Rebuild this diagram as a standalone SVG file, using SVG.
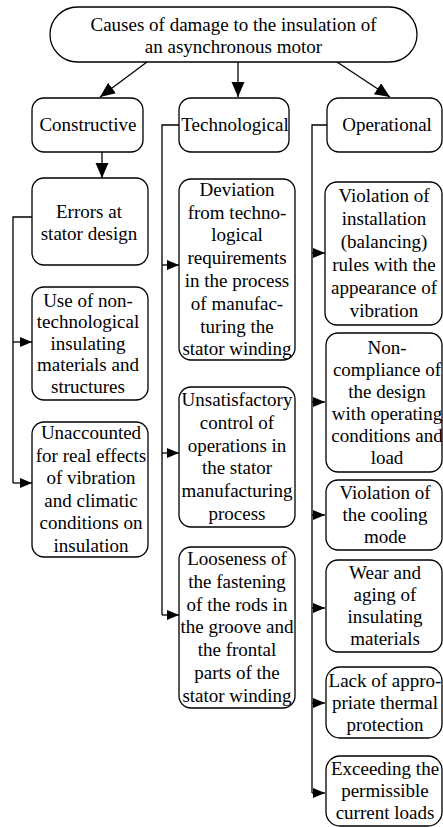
<svg xmlns="http://www.w3.org/2000/svg" width="443" height="827" viewBox="0 0 443 827">
<style>
.box{fill:#fff;stroke:#000;stroke-width:1.3}
.t{font-family:"Liberation Serif","Times New Roman",serif;font-size:19px;fill:#000;text-anchor:middle}
.c{fill:none;stroke:#000;stroke-width:1.3}
</style>
<defs>
<marker id="a" markerUnits="userSpaceOnUse" markerWidth="13" markerHeight="10" refX="12" refY="5" orient="auto"><path d="M0,0 L12,5 L0,10 z" fill="#000"/></marker>
<marker id="b" markerUnits="userSpaceOnUse" markerWidth="16" markerHeight="14" refX="15" refY="6.5" orient="auto"><path d="M0,0 L15,6.5 L0,13 z" fill="#000"/></marker>
</defs>
<rect width="443" height="827" fill="#fff"/>
<g id="connectors">
<path class="c" d="M147,62 L100,97" marker-end="url(#b)"/>
<path class="c" d="M238,62 L238,97" marker-end="url(#b)"/>
<path class="c" d="M337,62 L390,97" marker-end="url(#b)"/>
<path class="c" d="M102,152 L102,178" marker-end="url(#b)"/>
<path class="c" d="M32,217 L13,217 L13,483"/>
<path class="c" d="M13,342 L32,342" marker-end="url(#a)"/>
<path class="c" d="M13,483 L32,483" marker-end="url(#a)"/>
<path class="c" d="M179,125 L162,125 L162,615"/>
<path class="c" d="M162,265 L179,265" marker-end="url(#a)"/>
<path class="c" d="M162,453 L179,453" marker-end="url(#a)"/>
<path class="c" d="M162,615 L179,615" marker-end="url(#a)"/>
<path class="c" d="M327,125 L312,125 L312,793"/>
<path class="c" d="M312,253 L325,253" marker-end="url(#a)"/>
<path class="c" d="M312,402 L325,402" marker-end="url(#a)"/>
<path class="c" d="M312,515 L325,515" marker-end="url(#a)"/>
<path class="c" d="M312,608 L325,608" marker-end="url(#a)"/>
<path class="c" d="M312,703 L325,703" marker-end="url(#a)"/>
<path class="c" d="M312,793 L325,793" marker-end="url(#a)"/>
</g>
<g id="root">
<rect class="box" x="50" y="7" width="367" height="55" rx="27.5"/>
<text class="t" x="233.5" y="31">Causes of damage to the insulation of</text>
<text class="t" x="233.5" y="53">an asynchronous motor</text>
</g>
<g id="constructive">
<rect class="box" x="32" y="98" width="111" height="54" rx="12"/>
<text class="t" x="88" y="131">Constructive</text>
</g>
<g id="technological">
<rect class="box" x="179" y="98" width="110" height="54" rx="12"/>
<text class="t" x="235" y="131">Technological</text>
</g>
<g id="operational">
<rect class="box" x="327" y="98" width="115" height="54" rx="12"/>
<text class="t" x="387" y="131">Operational</text>
</g>
<g id="errors">
<rect class="box" x="32" y="178" width="116" height="87" rx="12"/>
<text class="t" x="89" y="218">Errors at</text>
<text class="t" x="89" y="240">stator design</text>
</g>
<g id="use-non-tech">
<rect class="box" x="32" y="287" width="116" height="113" rx="12"/>
<text class="t" x="88" y="306.5">Use of non-</text>
<text class="t" x="88" y="328">technological</text>
<text class="t" x="88" y="349.5">insulating</text>
<text class="t" x="88" y="371">materials and</text>
<text class="t" x="88" y="392.5">structures</text>
</g>
<g id="unaccounted">
<rect class="box" x="32" y="422" width="116" height="135" rx="12"/>
<text class="t" x="91" y="439">Unaccounted</text>
<text class="t" x="91" y="461.5">for real effects</text>
<text class="t" x="91" y="484">of vibration</text>
<text class="t" x="91" y="506.5">and climatic</text>
<text class="t" x="91" y="529">conditions on</text>
<text class="t" x="91" y="551.5">insulation</text>
</g>
<g id="deviation">
<rect class="box" x="179" y="179" width="116" height="181" rx="12"/>
<text class="t" x="237" y="195.7">Deviation</text>
<text class="t" x="237" y="218.5">from techno-</text>
<text class="t" x="237" y="241.3">logical</text>
<text class="t" x="237" y="264.1">requirements</text>
<text class="t" x="237" y="286.9">in the process</text>
<text class="t" x="237" y="309.7">of manufac-</text>
<text class="t" x="237" y="332.5">turing the</text>
<text class="t" x="237" y="355.3">stator winding</text>
</g>
<g id="unsatisfactory">
<rect class="box" x="179" y="387" width="116" height="140" rx="12"/>
<text class="t" x="237" y="406">Unsatisfactory</text>
<text class="t" x="237" y="428.8">control of</text>
<text class="t" x="237" y="451.6">operations in</text>
<text class="t" x="237" y="474.4">the stator</text>
<text class="t" x="237" y="497.2">manufacturing</text>
<text class="t" x="237" y="520">process</text>
</g>
<g id="looseness">
<rect class="box" x="179" y="547" width="116" height="161" rx="12"/>
<text class="t" x="237" y="565">Looseness of</text>
<text class="t" x="237" y="587.8">the fastening</text>
<text class="t" x="237" y="610.6">of the rods in</text>
<text class="t" x="237" y="633.4">the groove and</text>
<text class="t" x="237" y="656.2">the frontal</text>
<text class="t" x="237" y="679">parts of the</text>
<text class="t" x="237" y="701.8">stator winding</text>
</g>
<g id="violation-installation">
<rect class="box" x="325" y="182" width="117" height="143" rx="12"/>
<text class="t" x="384" y="202">Violation of</text>
<text class="t" x="384" y="225">installation</text>
<text class="t" x="384" y="248">(balancing)</text>
<text class="t" x="384" y="271">rules with the</text>
<text class="t" x="384" y="294">appearance of</text>
<text class="t" x="384" y="317">vibration</text>
</g>
<g id="non-compliance">
<rect class="box" x="326" y="333" width="116" height="139" rx="12"/>
<text class="t" x="387" y="353.5">Non-</text>
<text class="t" x="387" y="375.5">compliance of</text>
<text class="t" x="387" y="397.5">the design</text>
<text class="t" x="387" y="419.5">with operating</text>
<text class="t" x="387" y="441.5">conditions and</text>
<text class="t" x="387" y="463.5">load</text>
</g>
<g id="cooling">
<rect class="box" x="326" y="480" width="116" height="70" rx="12"/>
<text class="t" x="385" y="499">Violation of</text>
<text class="t" x="385" y="521">the cooling</text>
<text class="t" x="385" y="543">mode</text>
</g>
<g id="wear">
<rect class="box" x="326" y="560" width="116" height="92" rx="12"/>
<text class="t" x="385" y="579">Wear and</text>
<text class="t" x="385" y="601">aging of</text>
<text class="t" x="385" y="623">insulating</text>
<text class="t" x="385" y="645">materials</text>
</g>
<g id="lack">
<rect class="box" x="326" y="667" width="116" height="71" rx="14"/>
<text class="t" x="385" y="686.5">Lack of appro-</text>
<text class="t" x="385" y="708.5">priate thermal</text>
<text class="t" x="385" y="730.5">protection</text>
</g>
<g id="exceeding">
<rect class="box" x="326" y="756" width="116" height="70" rx="14"/>
<text class="t" x="385" y="775">Exceeding the</text>
<text class="t" x="385" y="797">permissible</text>
<text class="t" x="385" y="819">current loads</text>
</g>
</svg>
